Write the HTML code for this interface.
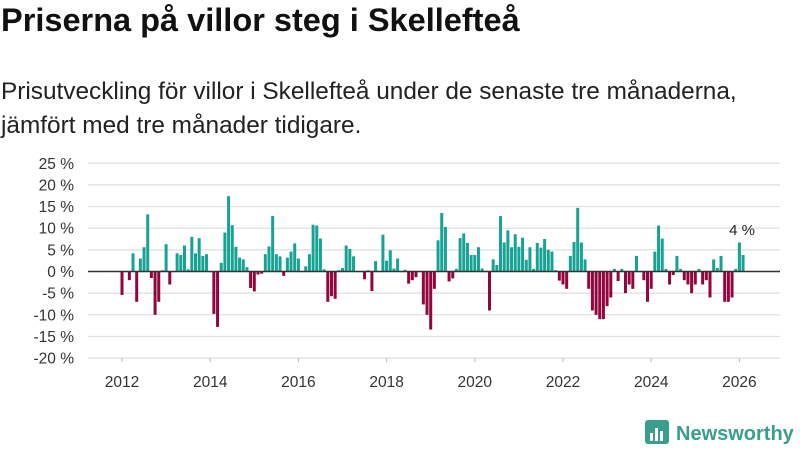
<!DOCTYPE html>
<html><head><meta charset="utf-8">
<style>
body{margin:0;background:#fff;font-family:"Liberation Sans","DejaVu Sans",sans-serif;}
#wrap{position:relative;width:800px;height:450px;overflow:hidden;}
h1{position:absolute;left:1px;top:2px;margin:0;font-size:30px;font-weight:bold;color:#111;white-space:nowrap;}
p{position:absolute;left:1px;top:75px;margin:0;font-size:22px;line-height:34px;color:#222;white-space:nowrap;}
svg{position:absolute;left:0;top:0;}
</style></head><body>
<div id="wrap">
<h1 id="ttl">Priserna på villor steg i Skellefteå</h1>
<p id="sub"><span id="l1">Prisutveckling för villor i Skellefteå under de senaste tre månaderna,</span><br>jämfört med tre månader tidigare.</p>
<svg id="chart" width="800" height="450"></svg>
</div>
<script>
const startYear = 2012;
const values = [-5.4,0,-2,4.2,-7,3,5.6,13.2,-1.5,-10,-7,0.3,6.3,-3,0,4.2,3.8,6,0.5,8,4.2,7.7,3.6,4,0,-9.8,-12.8,2,9,17.4,10.7,5.7,3.2,2.8,1,-3.8,-4.6,-0.7,
-0.5,4,5.8,12.8,4,3.5,-1,3.2,4.6,6.5,3,0,1.2,4,10.8,10.6,7.6,0.5,-7,-5.7,-6.3,0.3,0.8,6,5.2,3.5,0,0,-1.8,0.3,-4.5,2.4,0,8.5,2.5,4.9,0.7,3,0,0.4,-2.8,-2,-1.3,0,-7.6,-10,-13.4,
-4,7.2,13.5,10.3,-2.3,-1.6,0.6,7.7,8.8,6.6,3.8,3.8,5.6,0.7,0,-9,2.8,1.5,12.8,6.7,9.5,5.6,8.6,5.7,7.8,2.7,5.6,0.6,6.6,5.5,7.5,5,4.6,0.3,-2.1,-3,-4,3.6,6.8,14.7,6.7,2.8,-4,-9,-10,-11,-11,
-8,-6,0.6,-2.2,0.6,-5,-3,-4,3.6,0,-2,-7,-4,4.6,10.6,7.6,0.6,-3,-0.8,3.6,0.6,-2,-3,-5,-3,0.6,-3,-2,-6,2.8,0.8,3.6,-7,-7,-6,0.6,6.7,3.8];
const yTicks = [25,20,15,10,5,0,-5,-10,-15,-20];
const xTicks = [2012,2014,2016,2018,2020,2022,2024,2026];
const lastLabel = "4 %";

function fit(el,measure,target){const w=measure.getBoundingClientRect().width;const fs=parseFloat(getComputedStyle(el).fontSize);el.style.fontSize=(fs*target/w)+'px';}
fit(document.getElementById('ttl'),document.getElementById('ttl'),519);
fit(document.getElementById('sub'),document.getElementById('l1'),736);

const NS="http://www.w3.org/2000/svg";
const svg=document.getElementById('chart');
const y=v=>271.5 - v*4.33;
const x=yr=>122 + (yr-2012)*44.1;
function mk(t,a){const e=document.createElementNS(NS,t);for(const k in a)e.setAttribute(k,a[k]);svg.appendChild(e);return e;}
yTicks.forEach(t=>{
  const g=mk('line',{x1:88,x2:780,y1:y(t),y2:y(t),stroke:'#dedede','stroke-width':1.2});
  
  
  const l=mk('text',{x:74,y:y(t)+5.5,'text-anchor':'end','font-size':15.5,fill:'#333'});
  l.textContent=t+' %';
  
  
});
xTicks.forEach(t=>{
  const l=mk('text',{x:x(t),y:387,'text-anchor':'middle','font-size':15.5,fill:'#333'});
  l.textContent=t;
  
  
  const tk=mk('line',{x1:x(t),x2:x(t),y1:y(-20),y2:y(-20)+4,stroke:'#bbb'});
  
  
});
values.forEach((v,i)=>{
  const cx=x(startYear+i/12);
  const top=v>=0?y(v):y(0), h=Math.max(Math.abs(y(v)-y(0)),0.6);
  const r=mk('rect',{x:cx-1.5,y:top,width:3,height:h,fill:v>=0?'#16a394':'#92063f'});
  
  
});
const z=mk('line',{x1:88,x2:780,y1:y(0),y2:y(0),stroke:'#333','stroke-width':1.5});


const li=values.length-1;
const lab=mk('text',{x:x(startYear+li/12)-1,y:y(values[li])-20,'text-anchor':'middle','font-size':15,fill:'#222'});
lab.textContent=lastLabel;


const lg=mk('g',{});


const ic=document.createElementNS(NS,'rect');
ic.setAttribute('x',645);ic.setAttribute('y',420);ic.setAttribute('width',24);ic.setAttribute('height',24);ic.setAttribute('rx',3);ic.setAttribute('fill','#3a9e8c');
lg.appendChild(ic);
[[650,433,3,8],[655,428,3,13],[660,431,3,10]].forEach(b=>{const r=document.createElementNS(NS,'rect');r.setAttribute('x',b[0]);r.setAttribute('y',b[1]);r.setAttribute('width',b[2]);r.setAttribute('height',b[3]);r.setAttribute('fill','#fff');lg.appendChild(r);});
const lt=document.createElementNS(NS,'text');
lt.setAttribute('x',676);lt.setAttribute('y',440);lt.setAttribute('font-size',20);lt.setAttribute('font-weight','bold');lt.setAttribute('fill','#3a9e8c');
lt.textContent='Newsworthy';
lg.appendChild(lt);
</script>
</body></html>
